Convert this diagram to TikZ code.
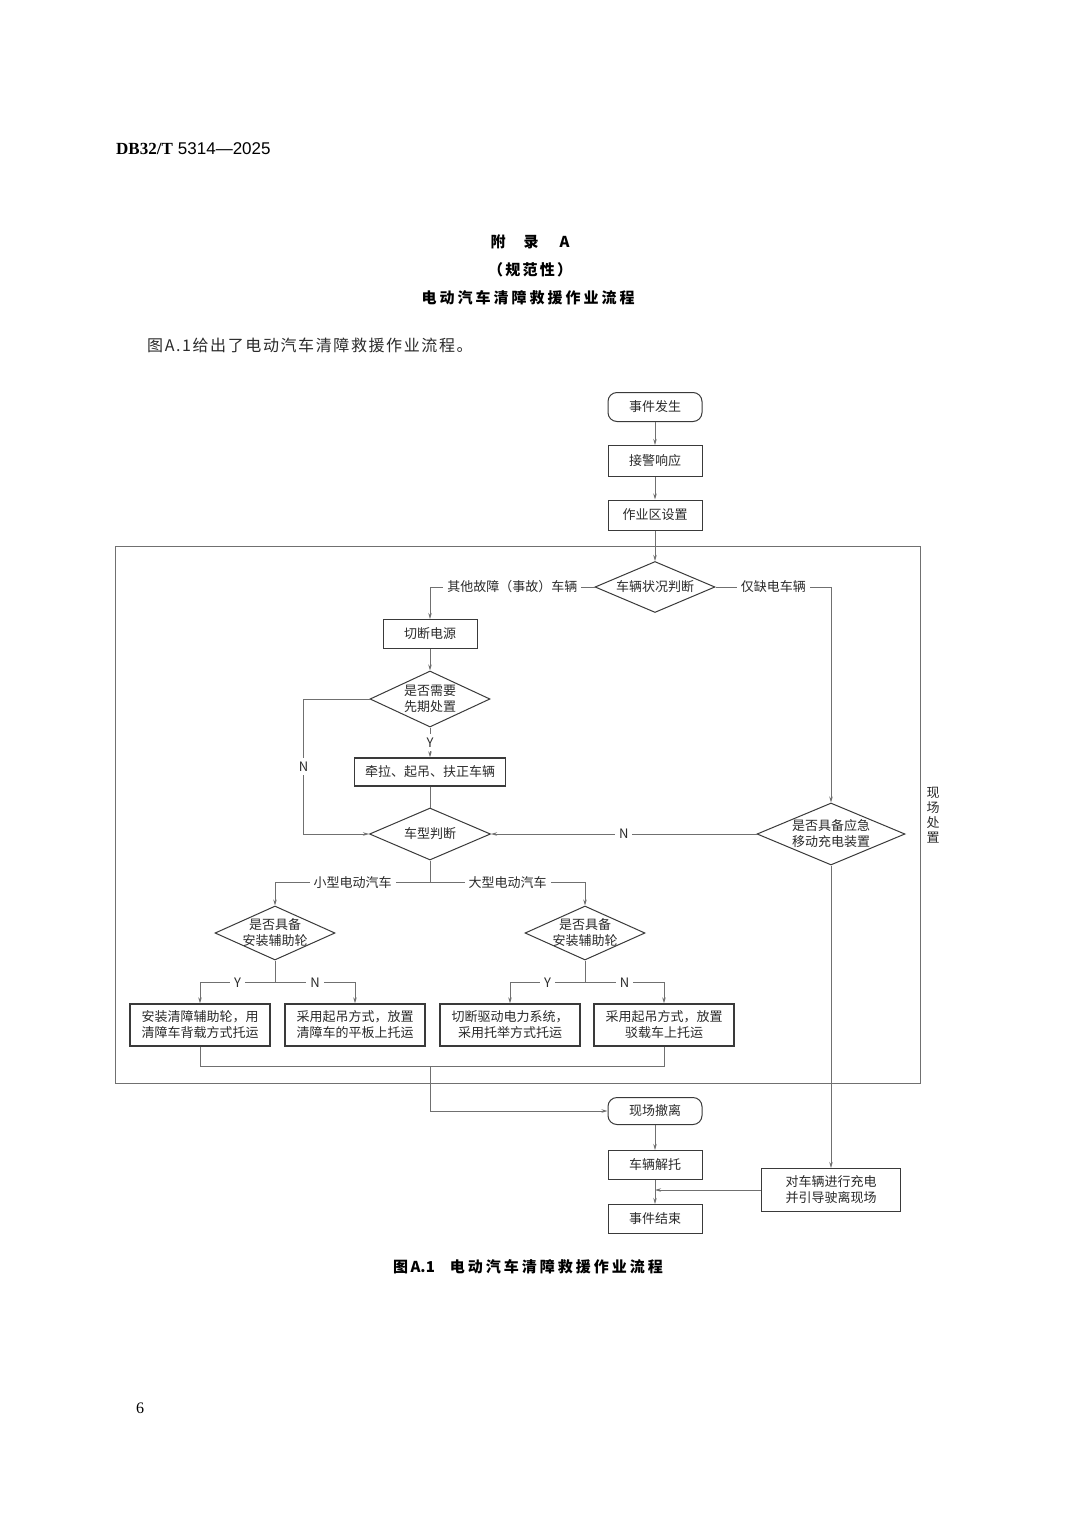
\documentclass[tikz,border=0pt]{standalone}
\usepackage{fontspec}
\setmainfont{Noto Sans CJK SC}
\newfontfamily\latinserif{Liberation Serif}
\newfontfamily\latinsans{Liberation Sans}
\usepackage{tikz}
\usetikzlibrary{arrows.meta,positioning,calc,shapes.geometric}
\definecolor{ink}{HTML}{2B2B2B}
\definecolor{edge}{HTML}{3A3A3A}
\definecolor{wire}{HTML}{707070}
\newcommand\diagfont{\fontsize{13}{16}\selectfont}
\newcommand\headfont{\fontsize{15}{18}\selectfont\bfseries}
\tikzset{
  box/.style={
    draw=edge,line width=1pt,minimum width=94pt,minimum height=29pt,
    inner sep=0pt,align=center,font=\diagfont,text=ink
  },
  termbox/.style={box,rounded corners=9pt},
  widebox/.style={box,line width=1.4pt,minimum width=140pt,minimum height=42pt},
  decision/.style={
    diamond,draw=edge,line width=1pt,aspect=2.3,inner sep=-3pt,
    align=center,font=\diagfont,text=ink
  },
  arrow/.style={-{Stealth[length=6pt,width=3.5pt]},draw=wire,line width=.8pt},
  link/.style={draw=wire,line width=.8pt},
  lbl/.style={fill=white,inner sep=4pt,font=\diagfont,text=ink},
  zonebox/.style={draw=wire,line width=1pt}
}

\begin{document}
\begin{tikzpicture}[x=1pt,y=-1pt]
\fill[white] (0,0) rectangle (1080,1515);
\useasboundingbox (0,0) rectangle (1080,1515);
% page head
\node[anchor=west,inner sep=0pt,font=\fontsize{17}{20}\selectfont] (code) at (116,149)
  {{\latinserif\bfseries DB32/T}\hspace{.3em}{\latinsans 5314—2025}};
\node[font=\headfont] (app) at (530,242) {附\hspace{1.2em}录\hspace{1.4em}A};
\node[font=\headfont\addfontfeatures{LetterSpace=15}] (norm) at (530,270) {（规范性）};
\node[font=\headfont\addfontfeatures{LetterSpace=20}] (title) at (528,298)
  {电动汽车清障救援作业流程};
\node[anchor=west,inner sep=0pt,font=\fontsize{16}{19}\selectfont\addfontfeatures{LetterSpace=10},text=ink] (intro) at (147,345)
  {图A.1给出了电动汽车清障救援作业流程。};

% flow
\node[termbox] (start) at (655,407) {事件发生};
\node[box,minimum height=31pt] (alarm) at (655,461) {接警响应};
\node[box,minimum height=30pt] (zone) at (655,515) {作业区设置};
\draw[zonebox] (115,546) rectangle (920,1083);
\node[font=\fontsize{13}{15}\selectfont,align=center,text=ink] (site) at (933,815) {现\\场\\处\\置};
\node[decision,minimum width=120pt,minimum height=51pt] (judge) at (655,587) {车辆状况判断};
\node[box] (cut) at (430,634) {切断电源};
\node[decision,minimum width=120pt,minimum height=56pt] (need) at (430,699) {是否需要\\先期处置};
\node[box,line width=1.4pt,minimum width=151pt,minimum height=28pt] (act) at (430,772) {牵拉、起吊、扶正车辆};
\node[decision,minimum width=121pt,minimum height=52pt] (type) at (430,834) {车型判断};
\node[decision,minimum width=148pt,minimum height=62pt] (emerg) at (831,834) {是否具备应急\\移动充电装置};
\node[decision,minimum width=120pt,minimum height=54pt] (sd) at (275,933) {是否具备\\安装辅助轮};
\node[decision,minimum width=120pt,minimum height=54pt] (ld) at (585,933) {是否具备\\安装辅助轮};
\node[widebox] (b1) at (200,1025) {安装清障辅助轮，用\\清障车背载方式托运};
\node[widebox] (b2) at (355,1025) {采用起吊方式，放置\\清障车的平板上托运};
\node[widebox] (b3) at (510,1025) {切断驱动电力系统，\\采用托举方式托运};
\node[widebox] (b4) at (664,1025) {采用起吊方式，放置\\驳载车上托运};
\node[termbox,minimum height=27pt] (leave) at (655,1111) {现场撤离};
\node[box] (untie) at (655,1165) {车辆解托};
\node[box] (end) at (655,1219) {事件结束};
\node[box,minimum width=139pt,minimum height=43pt] (charge) at (831,1190) {对车辆进行充电\\并引导驶离现场};

\draw[arrow] (start)--(alarm);
\draw[arrow] (alarm)--(zone);
\draw[arrow] (zone)--(judge);
\draw[arrow] (judge.west) -- node[lbl]{其他故障（事故）车辆} (judge.west -| cut.north) -- (cut.north);
\draw[arrow] (judge.east) -- node[lbl]{仅缺电车辆} (judge.east -| emerg.north) -- (emerg.north);
\draw[arrow] (cut)--(need);
\draw[arrow] (need) -- node[lbl]{Y} (act);
\draw[arrow] (need.west) -- ++(-66,0) |- node[lbl,pos=.25]{N} (type.west);
\draw[link] (act)--(type);
\draw[arrow] (emerg.west) -- node[lbl]{N} (type.east);
\draw[link] (type.south) -- ++(0,22) coordinate (split);
\draw[arrow] (split) -- node[lbl]{小型电动汽车} (split -| sd.north) -- (sd.north);
\draw[arrow] (split) -- node[lbl]{大型电动汽车} (split -| ld.north) -- (ld.north);
\draw[link] (sd.south) -- ++(0,22) coordinate (sdsplit);
\draw[arrow] (sdsplit) -- node[lbl]{Y} (sdsplit -| b1.north) -- (b1.north);
\draw[arrow] (sdsplit) -- node[lbl]{N} (sdsplit -| b2.north) -- (b2.north);
\draw[link] (ld.south) -- ++(0,22) coordinate (ldsplit);
\draw[arrow] (ldsplit) -- node[lbl]{Y} (ldsplit -| b3.north) -- (b3.north);
\draw[arrow] (ldsplit) -- node[lbl]{N} (ldsplit -| b4.north) -- (b4.north);
\draw[link] (b1.south) -- ++(0,20) coordinate (merge) -| (b4.south);
\draw[arrow] (merge -| type.south) |- (leave.west);
\draw[arrow] (leave)--(untie);
\draw[arrow] (untie)--(end);
\draw[arrow] (emerg.south)--(charge.north);
\draw[arrow] (charge.west) -- (charge.west -| end.north);

% caption and folio
\node[font=\headfont] (cap) at (528,1267)
  {图\,A.1\hspace{1em}{\addfontfeatures{LetterSpace=20}电动汽车清障救援作业流程}};
\node[font=\fontsize{16}{19}\selectfont\latinserif] (folio) at (140,1408) {6};
\end{tikzpicture}
\end{document}
